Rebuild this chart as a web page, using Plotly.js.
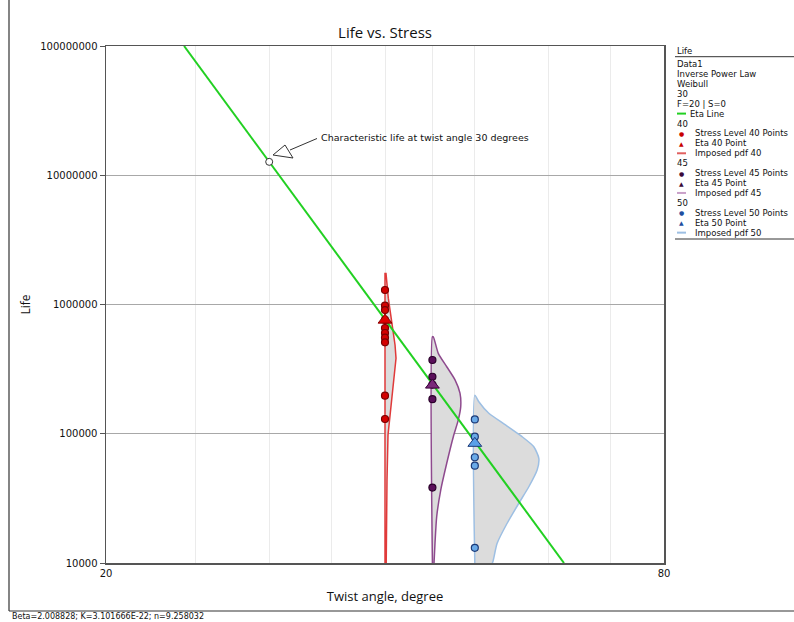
<!DOCTYPE html>
<html>
<head>
<meta charset="utf-8">
<script src="https://cdn.plot.ly/plotly-3.0.1.min.js"></script>
<style>html,body{margin:0;padding:0;background:#fff;}#chart{width:794px;height:622px;}</style>
</head>
<body>
<div id="chart"></div>
<script>
// ---------- data ----------
const stressLevels = [40, 45, 50];
const etaLineX = [24.28, 62.4];
const etaLineY = [1e8, 1e4];
const charX = [30];
const charY = [1.27e7];
const pts40 = [1.295e6, 9.8e5, 9.06e5, 7.6e5, 6.58e5, 6.02e5, 5.54e5, 5.1e5, 1.97e5, 1.30e5];
const pts45 = [3.72e5, 2.76e5, 2.4e5, 1.85e5, 3.83e4];
const pts50 = [1.29e5, 9.5e4, 6.58e4, 5.66e4, 1.31e4];
const etaPointY = [7.57e5, 2.38e5, 8.43e4];
const pdf40X = [40, 40, 40.1, 40.33, 40.67, 41.01, 41.11, 40.93, 40.67, 40.43, 40.30, 40.2, 40.12];
const pdf40Y = [1e4, 1.74e6, 1.74e6, 1.12e6, 7.36e5, 4.86e5, 3.84e5, 2.85e5, 1.88e5, 1.32e5, 9.8e4, 4.4e4, 1e4];
const pdf45X = [45, 45, 45.1, 45.66, 46.63, 47.60, 48.19, 48.28, 47.99, 47.40, 46.63, 45.94, 45.48, 45.29, 45.18];
const pdf45Y = [1e4, 5.63e5, 5.63e5, 4.19e5, 3.30e5, 2.61e5, 2.06e5, 1.62e5, 1.28e5, 9.49e4, 5.91e4, 3.67e4, 2.28e4, 1.42e4, 1e4];
const pdf50X = [50, 50, 50.5, 51.77, 53.96, 56.23, 57.89, 58.62, 58.37, 57.18, 55.78, 54.18, 52.85, 52.29, 52.2];
const pdf50Y = [1e4, 1.99e5, 1.77e5, 1.44e5, 1.17e5, 9.49e4, 7.94e4, 6.46e4, 5.24e4, 3.89e4, 2.90e4, 2.03e4, 1.42e4, 1.02e4, 1e4];
const xTickVals = [20, 25, 30, 35, 40, 45, 50, 60, 70, 80];
const xTickText = ['20', '', '', '', '', '', '', '', '', '80'];
const yTickVals = [1e4, 1e5, 1e6, 1e7, 1e8];
const yTickText = ['10000', '100000', '1000000', '10000000', '100000000'];
const legendHeader = ['Data1', 'Inverse Power Law', 'Weibull', '30', 'F=20 | S=0'];
const legendItems = [
  ['line', '#22d022', 'Eta Line'],
  ['none', '', '40'],
  ['dot', '#c80000', 'Stress Level 40 Points'],
  ['tri', '#c80000', 'Eta 40 Point'],
  ['line', '#e06060', 'Imposed pdf 40'],
  ['none', '', '45'],
  ['dot', '#3a0a3a', 'Stress Level 45 Points'],
  ['tri', '#3a0a3a', 'Eta 45 Point'],
  ['line', '#c9a0c9', 'Imposed pdf 45'],
  ['none', '', '50'],
  ['dot', '#1f4f9f', 'Stress Level 50 Points'],
  ['tri', '#1f4f9f', 'Eta 50 Point'],
  ['line', '#9dbfe3', 'Imposed pdf 50']
];
const footerText = 'Beta=2.008828; K=3.101666E-22; n=9.258032';

// ---------- helpers for layout placement ----------
const L = 106, R = 664, T = 46, B = 563;
const PX = p => (p - L) / (R - L);
const PY = p => (B - p) / (B - T);

const fillGray = '#dcdcdc';
function pdfTrace(x, y, col, smooth) {
  return {x: x, y: y, type: 'scatter', mode: 'lines', fill: 'toself', fillcolor: fillGray,
    line: {color: col, width: 1.5, shape: smooth ? 'spline' : 'linear', smoothing: smooth || 0}, hoverinfo: 'skip'};
}
function ptsTrace(lvl, ys, fill, edge) {
  return {x: ys.map(() => lvl), y: ys, type: 'scatter', mode: 'markers',
    marker: {symbol: 'circle', size: 7, color: fill, line: {color: edge, width: 1.2}}};
}

const traces = [
  pdfTrace(pdf40X, pdf40Y, '#e03a3a', 0),
  pdfTrace(pdf45X, pdf45Y, '#8e4a8e', 0.6),
  pdfTrace(pdf50X, pdf50Y, '#9dbfe3', 0.6),
  {x: etaLineX, y: etaLineY, type: 'scatter', mode: 'lines', line: {color: '#22d022', width: 2}},
  ptsTrace(stressLevels[0], pts40, '#d40000', '#7a0000'),
  ptsTrace(stressLevels[1], pts45, '#5a0f5a', '#2a002a'),
  ptsTrace(stressLevels[2], pts50, '#6aaae8', '#1c3a78'),
  {x: stressLevels, y: etaPointY, type: 'scatter', mode: 'markers',
   marker: {symbol: 'triangle-up', size: 12,
     color: ['#e00000', '#7a2a7a', '#5aa0e8'],
     line: {color: ['#8a0000', '#3a003a', '#1c3a78'], width: 1}}},
  {x: charX, y: charY, type: 'scatter', mode: 'markers',
   marker: {symbol: 'circle', size: 7, color: '#ffffff', line: {color: '#333', width: 1}}}
];

const font = 'DejaVu Sans, Verdana, sans-serif';
const shapes = [
  // outer frame
  {type: 'line', xref: 'paper', yref: 'paper', x0: PX(9), x1: PX(9), y0: PY(0), y1: PY(611), line: {color: '#333', width: 1.2}},
  {type: 'line', xref: 'paper', yref: 'paper', x0: PX(9), x1: PX(794), y0: PY(611), y1: PY(611), line: {color: '#333', width: 1.2}},
  // legend rules
  {type: 'line', xref: 'paper', yref: 'paper', x0: PX(675), x1: PX(794), y0: PY(56.7), y1: PY(56.7), line: {color: '#333', width: 1}},
  {type: 'line', xref: 'paper', yref: 'paper', x0: PX(675), x1: PX(794), y0: PY(239), y1: PY(239), line: {color: '#333', width: 1}},
  // callout arrow (hollow triangle + leader)
  {type: 'path', xref: 'paper', yref: 'paper',
   path: 'M ' + PX(273) + ' ' + PY(155) + ' L ' + PX(285) + ' ' + PY(145) + ' L ' + PX(293) + ' ' + PY(158) + ' Z',
   fillcolor: '#ffffff', line: {color: '#333', width: 1}},
  {type: 'line', xref: 'paper', yref: 'paper', x0: PX(290), y0: PY(150), x1: PX(317), y1: PY(138.5), line: {color: '#333', width: 1}}
];

const annotations = [
  {xref: 'paper', yref: 'paper', x: PX(318.5), y: PY(137.5), xanchor: 'left', yanchor: 'middle', showarrow: false,
   text: 'Characteristic life at twist angle 30 degrees', font: {family: font, size: 9.5, color: '#111'}},
  {xref: 'paper', yref: 'paper', x: PX(10), y: PY(616.5), xanchor: 'left', yanchor: 'middle', showarrow: false,
   text: footerText, font: {family: font, size: 8, color: '#111'}},
  {xref: 'paper', yref: 'paper', x: PX(675), y: PY(50.5), xanchor: 'left', yanchor: 'middle', showarrow: false,
   text: 'Life', font: {family: font, size: 8.5, color: '#111'}}
];
const step = 9.92;
legendHeader.forEach((t, i) => {
  annotations.push({xref: 'paper', yref: 'paper', x: PX(675), y: PY(64 + step * i), xanchor: 'left', yanchor: 'middle',
    showarrow: false, text: t, font: {family: font, size: 8.5, color: '#111'}});
});
legendItems.forEach((it, j) => {
  const yy = 64 + step * (legendHeader.length + j);
  const kind = it[0];
  let tx = 675;
  if (kind === 'line') {
    shapes.push({type: 'line', xref: 'paper', yref: 'paper', x0: PX(677), x1: PX(686), y0: PY(yy), y1: PY(yy), line: {color: it[1], width: 2}});
    tx = it[2] === 'Eta Line' ? 688 : 693;
  } else if (kind === 'dot' || kind === 'tri') {
    annotations.push({xref: 'paper', yref: 'paper', x: PX(681.5), y: PY(yy), xanchor: 'center', yanchor: 'middle', showarrow: false,
      text: kind === 'dot' ? '●' : '▲', font: {family: font, size: 6, color: it[1]}});
    tx = 693;
  }
  annotations.push({xref: 'paper', yref: 'paper', x: PX(tx), y: PY(yy), xanchor: 'left', yanchor: 'middle',
    showarrow: false, text: it[2], font: {family: font, size: 8.5, color: '#111'}});
});

const layout = {
  width: 794, height: 622,
  margin: {l: L, r: 794 - R, t: T, b: 622 - B, pad: 0},
  paper_bgcolor: '#ffffff', plot_bgcolor: '#ffffff',
  showlegend: false,
  title: {text: 'Life vs. Stress', x: 0.5, xref: 'paper', y: 1 - 33 / 622, yref: 'container', yanchor: 'middle',
    font: {family: 'Open Sans, sans-serif', size: 15, color: '#111'}},
  xaxis: {type: 'log', range: [Math.log10(20), Math.log10(80)], tickmode: 'array', tickvals: xTickVals, ticktext: xTickText,
    showgrid: true, gridcolor: '#ebebeb', gridwidth: 1, showline: true, linecolor: '#555', linewidth: 1.5, mirror: true,
    ticks: '', zeroline: false, automargin: false,
    tickfont: {family: font, size: 10, color: '#111'},
    title: {text: 'Twist angle, degree', font: {family: 'Open Sans, sans-serif', size: 13, color: '#111'}, standoff: 14}},
  yaxis: {type: 'log', range: [4, 8], tickmode: 'array', tickvals: yTickVals, ticktext: yTickText,
    showgrid: true, gridcolor: '#a8a8a8', gridwidth: 1, showline: true, linecolor: '#555', linewidth: 1.5, mirror: true,
    ticks: 'outside', ticklen: 5, tickcolor: '#555', zeroline: false, automargin: false,
    tickfont: {family: font, size: 10, color: '#111'},
    title: {text: 'Life', font: {family: 'Open Sans, sans-serif', size: 12, color: '#111'}, standoff: 7}},
  shapes: shapes,
  annotations: annotations
};

Plotly.newPlot('chart', traces, layout, {displayModeBar: false, staticPlot: true});
</script>
</body>
</html>
